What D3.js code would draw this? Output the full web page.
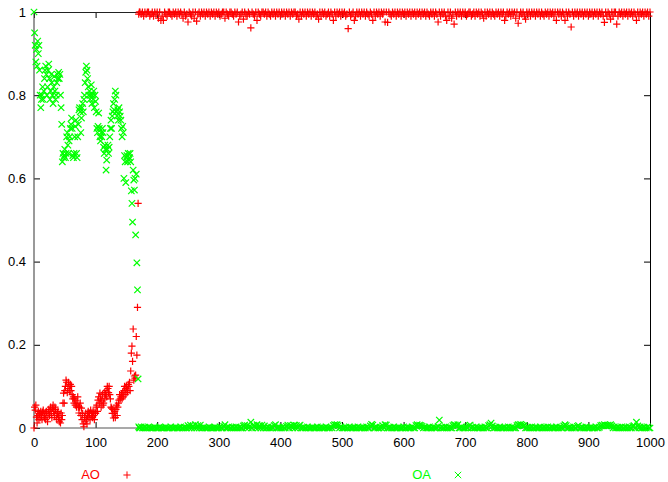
<!DOCTYPE html>
<html><head><meta charset="utf-8">
<script src="https://cdn.jsdelivr.net/npm/d3@7"></script>
<style>body{margin:0;background:#fff}svg{display:block}text{font-family:"Liberation Sans",Arial,Helvetica,sans-serif}</style>
</head><body><svg id="c" width="668" height="482"></svg>
<script>
const seriesNames = ["AO", "OA"];
const seriesColors = ["#ff0000", "#00ff00"];
const xTicks = [0, 100, 200, 300, 400, 500, 600, 700, 800, 900, 1000];
const yTicks = [0, 0.2, 0.4, 0.6, 0.8, 1];
const yTickLabels = ["0", "0.2", "0.4", "0.6", "0.8", "1"];
// sample positions: every step up to 171, every second step afterwards
const xEarly = d3.range(0, 172);
const xTail = d3.range(172, 1001, 2);

const aoEarly = [0,.05,.043,.055,.026,.012,.03,.04,.02,.035,
.025,.04,.03,.02,.038,.043,.03,.025,.035,.02,
.04,.03,.015,.035,.045,.03,.04,.05,.035,.025,
.048,.055,.04,.03,.05,.045,.03,.02,.035,.04,
.025,.015,.03,.012,.036,.02,.03,.06,.084,.06,
.09,.1,.115,.11,.085,.095,.11,.1,.09,.105,
.09,.1,.08,.07,.075,.06,.07,.055,.065,.05,
.06,.075,.05,.036,.05,.06,.03,.048,.02,.035,
.01,.003,.025,.015,.036,.02,.01,.03,.04,.026,
.035,.02,.043,.03,.035,.025,.04,.03,.02,.038,
.035,.05,.055,.04,.067,.075,.06,.084,.07,.05,
.065,.08,.055,.06,.085,.07,.08,.09,.075,.1,
.095,.085,.1,.08,.07,.05,.048,.035,.045,.024,
.035,.04,.025,.045,.055,.03,.05,.06,.067,.08,
.07,.075,.08,.07,.085,.075,.09,.1,.08,.095,
.1,.085,.09,.105,.1,.11,.09,.137,.18,.197,
.16,.238,.115,.125,.12,.127,.22,.175,.29,.54,
.995,1];

const oaEarly = [1,.95,.92,.88,.91,.87,.93,.9,.92,.86,
.8,.77,.79,.8,.82,.79,.81,.84,.86,.87,
.85,.8,.82,.86,.875,.84,.79,.81,.85,.83,
.8,.78,.82,.845,.81,.79,.8,.83,.85,.84,
.855,.84,.85,.8,.77,.73,.64,.66,.65,.655,
.67,.65,.66,.7,.71,.68,.66,.69,.7,.72,
.73,.745,.72,.655,.65,.66,.7,.725,.74,.66,
.65,.7,.73,.765,.77,.76,.71,.745,.77,.78,
.76,.79,.8,.83,.855,.87,.86,.84,.82,.8,
.81,.79,.8,.825,.78,.8,.79,.81,.77,.8,
.785,.76,.72,.71,.725,.757,.72,.7,.69,.71,
.7,.72,.71,.675,.66,.68,.67,.62,.644,.67,
.68,.66,.675,.7,.72,.74,.72,.75,.76,.78,
.765,.79,.81,.8,.76,.75,.765,.74,.77,.76,
.75,.74,.72,.7,.725,.71,.6,.655,.64,.59,
.65,.655,.64,.66,.645,.65,.66,.64,.57,.54,
.495,.62,.596,.572,.6,.464,.61,.397,.332,.118,
.003,0];

const aoTail = [1,.995,1,.99,1,.995,1,1,.99,.995,
1,.99,1,.995,1,.985,1,.98,.99,.98,
1,.995,.99,1,1,.995,.99,1,.995,1,
.99,1,.995,1,.995,.985,1,.99,.995,.976,
1,.995,.99,1,.985,1,.978,.995,1,.99,
1,.995,1,.99,1,.995,1,.99,1,.995,
1,.99,1,.995,1,.99,.995,1,1,.985,
1,.995,.99,1,1,.995,.99,1,.995,1,
.976,.99,.995,1,.983,1,.995,.99,1,.995,
.962,1,.995,.99,1,.98,1,.995,.99,1,
1,.995,1,.99,1,.995,.99,1,.995,1,
.99,1,.995,1,.99,1,.995,1,.99,1,
.995,1,.99,1,.995,1,1,.99,.995,.983,
1,.99,1,.995,1,.99,1,.995,1,.99,
1,.995,1,.99,.995,.983,1,.99,1,.995,
1,.99,.995,1,.99,1,.995,.98,1,.99,
1,.995,1,.99,1,.995,1,.99,.995,.96,
1,.99,.995,1,.98,.99,1,.995,1,.99,
1,.995,1,.99,1,.995,.99,1,.995,.98,
1,.99,1,.995,1,.99,1,.995,1,.976,
1,.975,1,.995,.99,1,.995,1,.99,1,
.995,1,.99,1,.995,1,.99,1,.995,1,
.99,1,.995,1,.99,1,.995,1,.99,1,
.995,1,.99,1,.995,.99,1,.995,1,.99,
1,.995,.976,1,.99,1,.995,1,.99,.98,
1,.99,1,.985,.995,.971,1,.99,1,.995,
1,.99,1,.995,1,.99,.995,1,1,.99,
.995,1,.99,1,.995,1,.99,1,.995,.985,
1,.99,1,.995,1,.99,1,.995,.99,1,
.995,1,.99,1,.995,1,.98,.99,1,.995,
1,.99,1,.995,1,.985,1,.973,.99,1,
.995,1,.99,.983,1,.995,1,.99,1,.995,
1,.99,1,.995,1,.99,1,.995,.99,1,
.995,1,.99,1,.995,1,.99,1,.98,1,
.995,1,.99,1,.995,.98,1,.99,1,.995,
.964,1,.99,1,.995,1,.99,1,.995,1,
.99,1,.995,1,.99,1,.995,1,.99,1,
.995,1,.99,1,.995,1,.99,.975,1,.99,
1,.995,.983,1,.99,1,1,.971,.99,1,
.995,1,.99,1,.995,1,.99,1,.995,1,
.99,1,.995,.98,1,.99,1,.995,1,.99,
1,.995,1,.99,1];

const oaTail = [0,.003,0,0,.002,0,0,.003,0,0,
0,0,.002,0,0,0,.003,0,0,0,
0,.002,0,0,0,.003,0,0,0,.002,
0,0,0,.003,0,0,.002,0,0,.006,
0,.007,0,.005,0,.008,0,.006,0,.007,
0,0,.002,0,0,0,.003,0,0,0,
0,.002,0,0,0,.003,0,0,.004,.008,
0,0,.003,0,0,.002,0,0,.003,0,
0,.002,0,0,.005,.007,0,.006,0,.004,
.014,0,.007,.005,0,.008,0,.006,0,.007,
0,.005,0,0,.003,0,0,.002,0,.006,
.008,0,0,.002,0,0,.003,0,0,.004,
.007,0,.006,.005,0,.007,0,.006,0,.005,
.007,0,0,.002,0,0,.003,0,0,0,
.002,0,0,0,.003,0,0,.002,0,0,
0,.003,0,0,0,.002,0,.006,.008,.007,
.008,.006,0,.003,0,0,0,.002,0,0,
.003,0,0,0,.002,0,0,.003,0,0,
0,.002,0,0,.003,0,0,.005,.009,.007,
0,0,.003,0,0,.002,0,.006,0,.008,
.007,0,0,.002,0,0,.003,0,0,0,
.002,0,0,0,.003,0,0,.002,0,0,
0,.003,0,0,.006,.008,.005,.007,.006,.004,
0,.002,0,0,0,.003,0,0,.002,0,
0,0,.004,.019,0,.002,0,0,.003,0,
0,.002,0,0,.006,.008,.007,.005,.008,0,
0,.003,0,0,0,.002,0,.005,.007,0,
.002,0,0,.003,0,0,0,.002,0,0,
.003,0,0,.006,.008,.012,.005,0,0,.002,
0,0,.003,0,0,0,.002,0,0,.003,
0,0,.002,0,0,0,.006,.008,.007,.009,
.007,.005,.006,0,0,.002,0,0,.003,0,
0,.002,0,0,0,.003,0,0,.002,0,
0,.003,0,0,.002,0,0,0,.003,0,
0,.002,0,0,.005,.008,.006,0,0,.002,
0,0,.003,0,0,.004,.006,0,0,.002,
0,0,.003,0,0,0,.002,0,0,0,
.003,0,0,.002,.006,.007,.005,.008,.006,.005,
.007,.006,.008,.005,0,.003,0,0,.002,0,
0,.003,0,0,.002,0,0,.003,0,0,
.004,.006,0,.014,.005,0,.003,0,0,.002,
0,0,.003,0,0];

const xs = xEarly.concat(xTail);
const seriesValues = [aoEarly.concat(aoTail), oaEarly.concat(oaTail)];

const svg = d3.select("#c");
const L = 34, R = 650, T = 12, B = 428;
const x = d3.scaleLinear().domain([0, 1000]).range([L, R]);
const y = d3.scaleLinear().domain([0, 1]).range([B, T]);

const plusPath = "M-3.6,0H3.6M0,-3.6V3.6";
const crossPath = "M-3.2,-3.2L3.2,3.2M-3.2,3.2L3.2,-3.2";
const markers = [plusPath, crossPath];

// axes
const fs = "13px";
const gB = svg.append("g").attr("transform", `translate(0,${B})`)
  .call(d3.axisBottom(x).tickValues(xTicks).tickFormat(d3.format("d")).tickSizeInner(-6).tickSizeOuter(0).tickPadding(10));
const gL = svg.append("g").attr("transform", `translate(${L},0)`)
  .call(d3.axisLeft(y).tickValues(yTicks).tickFormat((d, i) => yTickLabels[i]).tickSizeInner(-6).tickSizeOuter(0).tickPadding(8));
const gT = svg.append("g").attr("transform", `translate(0,${T})`)
  .call(d3.axisTop(x).tickValues(xTicks).tickFormat("").tickSizeInner(-6).tickSizeOuter(0));
const gR = svg.append("g").attr("transform", `translate(${R},0)`)
  .call(d3.axisRight(y).tickValues(yTicks).tickFormat("").tickSizeInner(-6).tickSizeOuter(0));
[gB, gL, gT, gR].forEach(g => {
  g.select(".domain").remove();
  g.selectAll(".tick line").attr("stroke", "#000");
  g.selectAll("text").attr("font-size", fs).attr("fill", "#000")
   .attr("font-family", '"Liberation Sans", Arial, sans-serif');
});

// border
svg.append("line").attr("x1", L).attr("x2", L).attr("y1", T).attr("y2", B).attr("stroke", "#555").attr("stroke-width", 1.2);
svg.append("line").attr("x1", L).attr("x2", R).attr("y1", B).attr("y2", B).attr("stroke", "#555").attr("stroke-width", 1.2);
svg.append("line").attr("x1", L).attr("x2", R + 0.5).attr("y1", T + 0.5).attr("y2", T + 0.5).attr("stroke", "#222").attr("stroke-width", 1);
svg.append("line").attr("x1", R + 0.5).attr("x2", R + 0.5).attr("y1", T).attr("y2", B).attr("stroke", "#000").attr("stroke-width", 1);

// points
seriesValues.forEach((vals, si) => {
  svg.append("g").selectAll("path").data(vals).join("path")
    .attr("transform", (d, i) => `translate(${x(xs[i])},${y(d)})`)
    .attr("d", markers[si])
    .attr("fill", "none")
    .attr("stroke", seriesColors[si])
    .attr("stroke-width", 1.2);
});

// legend
const legendX = [100, 431];
seriesNames.forEach((name, si) => {
  svg.append("text").attr("x", legendX[si]).attr("y", 479)
    .attr("text-anchor", "end").attr("font-size", fs).attr("fill", seriesColors[si]).text(name);
  svg.append("path").attr("transform", `translate(${legendX[si] + 27},475)`)
    .attr("d", markers[si]).attr("fill", "none").attr("stroke", seriesColors[si]).attr("stroke-width", 1);
});
</script></body></html>
